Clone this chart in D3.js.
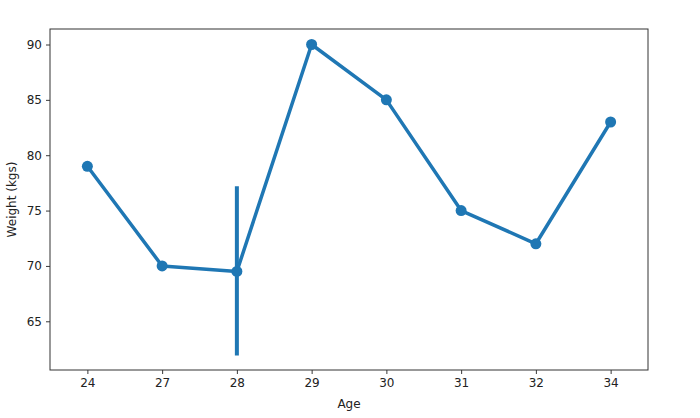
<!DOCTYPE html>
<html>
<head>
<meta charset="utf-8">
<script src="https://cdn.jsdelivr.net/npm/d3@7"></script>
<style>
  body { margin: 0; background: #fff; }
  svg { display: block; }
  text { font-family: "DejaVu Sans", sans-serif; }
</style>
</head>
<body>
<div id="chart"></div>
<script>
// ages (categorical) and mean weight per age
var ages = ["24", "27", "28", "29", "30", "31", "32", "34"];
var weights = [79, 70, 69.5, 90, 85, 75, 72, 83];
// confidence interval, only age 28 has more than one sample
var ciLow = [null, null, 61.9, null, null, null, null, null];
var ciHigh = [null, null, 77.2, null, null, null, null, null];
var yTicks = [65, 70, 75, 80, 85, 90];

var width = 700, height = 418;
var margin = {top: 29, right: 52, bottom: 48, left: 50};
var color = "#1f77b4";

var svg = d3.select("#chart").append("svg")
  .attr("width", width)
  .attr("height", height);

var x = d3.scalePoint()
  .domain(ages)
  .range([margin.left, width - margin.right])
  .padding(0.5);

var y = d3.scaleLinear()
  .domain([60.6, 91.4])
  .range([height - margin.bottom, margin.top]);

var data = ages.map(function(a, i) {
  return {age: a, w: weights[i], lo: ciLow[i], hi: ciHigh[i]};
});

// axes
var xAxis = svg.append("g")
  .attr("transform", "translate(0," + (height - margin.bottom) + ")")
  .call(d3.axisBottom(x).tickSize(4).tickPadding(4));
var yAxis = svg.append("g")
  .attr("transform", "translate(" + margin.left + ",0)")
  .call(d3.axisLeft(y).tickValues(yTicks).tickSize(4).tickPadding(4));

[xAxis, yAxis].forEach(function(g) {
  g.selectAll("text").attr("font-size", "12px").attr("fill", "#222")
    .style("font-family", "DejaVu Sans, sans-serif");
  g.selectAll("line").attr("stroke", "#222").attr("stroke-width", 0.9);
  g.select(".domain").remove();
});

// frame
svg.append("rect")
  .attr("x", margin.left)
  .attr("y", margin.top)
  .attr("width", width - margin.left - margin.right)
  .attr("height", height - margin.top - margin.bottom)
  .attr("fill", "none")
  .attr("stroke", "#333")
  .attr("stroke-width", 1);

// error bars
svg.selectAll(".err")
  .data(data.filter(function(d) { return d.lo != null; }))
  .enter().append("line")
  .attr("x1", function(d) { return x(d.age); })
  .attr("x2", function(d) { return x(d.age); })
  .attr("y1", function(d) { return y(d.lo); })
  .attr("y2", function(d) { return y(d.hi); })
  .attr("stroke", color)
  .attr("stroke-width", 4);

// line
var line = d3.line()
  .x(function(d) { return x(d.age); })
  .y(function(d) { return y(d.w); });

svg.append("path")
  .datum(data)
  .attr("d", line)
  .attr("fill", "none")
  .attr("stroke", color)
  .attr("stroke-width", 3.5)
  .attr("stroke-linejoin", "round");

// points
svg.selectAll(".pt")
  .data(data)
  .enter().append("circle")
  .attr("cx", function(d) { return x(d.age); })
  .attr("cy", function(d) { return y(d.w); })
  .attr("r", 5.5)
  .attr("fill", color);

// labels
svg.append("text")
  .attr("x", (margin.left + width - margin.right) / 2)
  .attr("y", 408)
  .attr("text-anchor", "middle")
  .attr("font-size", "12px")
  .attr("fill", "#222")
  .text("Age");

svg.append("text")
  .attr("transform", "translate(16," + ((margin.top + height - margin.bottom) / 2) + ") rotate(-90)")
  .attr("text-anchor", "middle")
  .attr("font-size", "12px")
  .attr("fill", "#222")
  .text("Weight (kgs)");
</script>
</body>
</html>
